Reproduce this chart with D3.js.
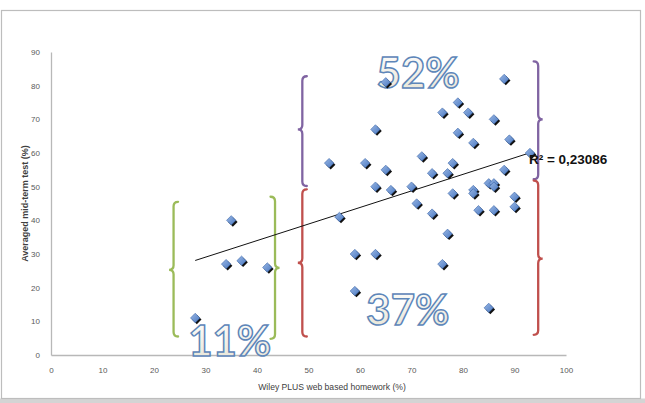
<!DOCTYPE html>
<html>
<head>
<meta charset="utf-8">
<script src="https://cdn.jsdelivr.net/npm/d3@7"></script>
<style>
  body { margin: 0; background: #fff; }
  svg { display: block; }
</style>
</head>
<body>
<div id="chart"></div>
<script>
// Data: [homework %, mid-term %]
const homework = [28, 34, 35, 37, 42, 54, 56, 59, 59, 61, 63, 63, 63, 65, 65, 66,
  70, 71, 72, 74, 74, 76, 76, 77, 77, 78, 78, 79, 79, 81, 82, 82, 82, 83, 85, 85,
  86, 86, 86, 86, 88, 88, 89, 90, 90, 93];
const midterm = [11, 27, 40, 28, 26, 57, 41, 30, 19, 57, 67, 50, 30, 81, 55, 49,
  50, 45, 59, 54, 42, 72, 27, 54, 36, 57, 48, 75, 66, 72, 63, 49, 48, 43, 51, 14,
  51, 50, 70, 43, 82, 55, 64, 47, 44, 60];

const xTicks = [0, 10, 20, 30, 40, 50, 60, 70, 80, 90, 100];
const yTicks = [0, 10, 20, 30, 40, 50, 60, 70, 80, 90];

// Linear trend
const trendSlope = 0.492;
const trendIntercept = 14.3;
const rSquaredLabel = "R² = 0,23086";

// Braces in data units: side, x, y bottom, y top, y middle, colour
const braces = [
  { side: "left", x: 23.8, y0: 5.5, y1: 45.5, ym: 25.3, color: "#9bbb59" },
  { side: "right", x: 43.5, y0: 4.8, y1: 47, ym: 25.9, color: "#9bbb59" },
  { side: "left", x: 48.8, y0: 50.2, y1: 82.8, ym: 67, color: "#8064a2" },
  { side: "left", x: 48.8, y0: 5.5, y1: 49.2, ym: 27.4, color: "#c0504d" },
  { side: "right", x: 94.6, y0: 52.2, y1: 87.2, ym: 70, color: "#8064a2" },
  { side: "right", x: 94.6, y0: 6, y1: 51.8, ym: 28.6, color: "#c0504d" }
];

// Share labels in data units
const shareLabels = [
  { text: "52%", x: 71.3, y: 79.2 },
  { text: "37%", x: 69.3, y: 8.9 },
  { text: "11%", x: 34.7, y: -0.3 }
];

const width = 645;
const height = 403;
const margin = { top: 52, right: 79, bottom: 48, left: 51 };

const svg = d3.select("#chart").append("svg")
  .attr("width", width)
  .attr("height", height);

const defs = svg.append("defs");
const grad = defs.append("linearGradient")
  .attr("id", "shareFill")
  .attr("x1", 0).attr("y1", 0).attr("x2", 0).attr("y2", 1);
grad.append("stop").attr("offset", "0%").attr("stop-color", "#ffffff");
grad.append("stop").attr("offset", "100%").attr("stop-color", "#e6e3d3");

const markGrad = defs.append("linearGradient")
  .attr("id", "markFill")
  .attr("x1", 0).attr("y1", 0).attr("x2", 1).attr("y2", 1);
markGrad.append("stop").attr("offset", "0%").attr("stop-color", "#9ab8e6");
markGrad.append("stop").attr("offset", "100%").attr("stop-color", "#4a78c0");

// Frame of the chart area
svg.append("rect")
  .attr("x", 0).attr("y", 398.5)
  .attr("width", width).attr("height", 5)
  .attr("fill", "#d4d4d4");
svg.append("rect")
  .attr("x", 1.5).attr("y", 10.5)
  .attr("width", 639).attr("height", 388)
  .attr("fill", "#fff")
  .attr("stroke", "#bdbdbd")
  .attr("stroke-width", 1.2);

const x = d3.scaleLinear().domain([0, 100]).range([margin.left, width - margin.right]);
const y = d3.scaleLinear().domain([0, 90]).range([height - margin.bottom, margin.top]);

// Axes
const xAxis = svg.append("g")
  .attr("transform", `translate(0,${y(0)})`)
  .call(d3.axisBottom(x).tickValues(xTicks).tickSize(0).tickPadding(12));
const yAxis = svg.append("g")
  .attr("transform", `translate(${x(0)},0)`)
  .call(d3.axisLeft(y).tickValues(yTicks).tickSize(0).tickPadding(11));

[xAxis, yAxis].forEach((ax) => {
  ax.select(".domain").attr("stroke", "#b8b8b8").attr("stroke-width", 1.3);
  ax.selectAll("text")
    .style("font-family", "'Liberation Sans', Arial, sans-serif")
    .style("font-size", "8px")
    .style("fill", "#595959");
});

svg.append("text")
  .attr("x", 332)
  .attr("y", 390)
  .attr("text-anchor", "middle")
  .style("font-family", "'Liberation Sans', Arial, sans-serif")
  .style("font-size", "8.6px")
  .style("fill", "#404040")
  .text("Wiley PLUS web based homework (%)");

svg.append("text")
  .attr("transform", `translate(28,${y(45)}) rotate(-90)`)
  .attr("text-anchor", "middle")
  .style("font-family", "'Liberation Sans', Arial, sans-serif")
  .style("font-size", "9px")
  .style("font-weight", "bold")
  .style("fill", "#404040")
  .text("Averaged mid-term test (%)");

// Braces
function bracePath(b) {
  const bx = x(b.x);
  const yt = y(b.y1);
  const yb = y(b.y0);
  const ym = y(b.ym);
  const s = b.side === "left" ? 1 : -1;
  const w = 4.5;
  return `M${bx + s * w},${yt} Q${bx},${yt} ${bx},${yt + w}`
    + ` L${bx},${ym - w} Q${bx},${ym} ${bx - s * w},${ym}`
    + ` Q${bx},${ym} ${bx},${ym + w}`
    + ` L${bx},${yb - w} Q${bx},${yb} ${bx + s * w},${yb}`;
}

svg.append("g")
  .selectAll("path")
  .data(braces)
  .enter()
  .append("path")
  .attr("d", bracePath)
  .attr("fill", "none")
  .attr("stroke", (d) => d.color)
  .attr("stroke-width", 2.3)
  .attr("stroke-linecap", "round");

// Share labels (outlined text)
svg.append("g")
  .selectAll("text")
  .data(shareLabels)
  .enter()
  .append("text")
  .attr("x", (d) => x(d.x))
  .attr("y", (d) => y(d.y))
  .attr("text-anchor", "middle")
  .style("font-family", "Lato, 'Open Sans', sans-serif")
  .style("font-size", "42px")
  .style("font-weight", "bold")
  .style("fill", "url(#shareFill)")
  .style("stroke", "#5d86b9")
  .style("stroke-width", 1.5)
  .text((d) => d.text);

// Trend line
const xExtent = d3.extent(homework);
svg.append("line")
  .attr("x1", x(xExtent[0]))
  .attr("y1", y(trendIntercept + trendSlope * xExtent[0]))
  .attr("x2", x(xExtent[1]))
  .attr("y2", y(trendIntercept + trendSlope * xExtent[1]))
  .attr("stroke", "#111")
  .attr("stroke-width", 1);

// Points
const points = homework.map((h, i) => ({ h, m: midterm[i] }));
const diamond = (cx, cy, r) => `M${cx},${cy - r} L${cx + r},${cy} L${cx},${cy + r} L${cx - r},${cy} Z`;

const pts = svg.append("g");
pts.selectAll(".shadow")
  .data(points)
  .enter()
  .append("path")
  .attr("class", "shadow")
  .attr("d", (d) => diamond(x(d.h) + 1.6, y(d.m) + 1.6, 4.7))
  .attr("fill", "#111");
pts.selectAll(".mark")
  .data(points)
  .enter()
  .append("path")
  .attr("class", "mark")
  .attr("d", (d) => diamond(x(d.h), y(d.m), 4.7))
  .attr("fill", "url(#markFill)")
  .attr("stroke", "#3d66a8")
  .attr("stroke-width", 0.6);

// R squared label at the end of the trend line
svg.append("text")
  .attr("x", x(xExtent[1]) - 1)
  .attr("y", y(trendIntercept + trendSlope * xExtent[1]) + 11)
  .style("font-family", "'Liberation Sans', Arial, sans-serif")
  .style("font-size", "13.5px")
  .style("font-weight", "bold")
  .style("fill", "#111")
  .text(rSquaredLabel);
</script>
</body>
</html>
